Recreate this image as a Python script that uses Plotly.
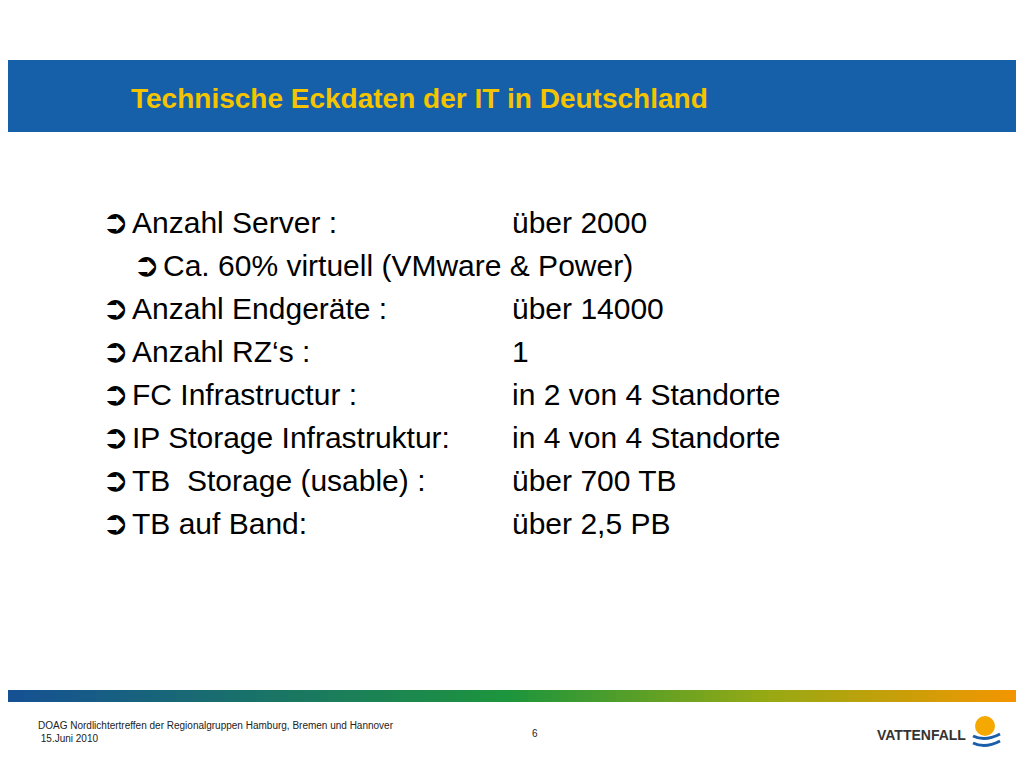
import plotly.graph_objects as go

title = "Technische Eckdaten der IT in Deutschland"
labels = ["Anzahl Server :", "Ca. 60% virtuell (VMware & Power)", "Anzahl Endgeräte :",
          "Anzahl RZ‘s :", "FC Infrastructur :", "IP Storage Infrastruktur:",
          "TB  Storage (usable) :", "TB auf Band:"]
values = ["über 2000", "", "über 14000", "1", "in 2 von 4 Standorte",
          "in 4 von 4 Standorte", "über 700 TB", "über 2,5 PB"]
levels = [0, 1, 0, 0, 0, 0, 0, 0]
footer = "DOAG Nordlichtertreffen der Regionalgruppen Hamburg, Bremen und Hannover<br> 15.Juni 2010"
page = "6"

fig = go.Figure()
shapes = [dict(type="rect", x0=0, x1=1024, y0=60, y1=132, fillcolor="#1660AA", line_width=0, layer="below")]

# gradient bar blue -> green -> orange
stops = [(0, (22, 80, 150)), (0.5, (30, 150, 60)), (0.75, (150, 170, 20)), (1, (245, 150, 0))]
n = 128
for i in range(n):
    t = i / (n - 1)
    for (a, ca), (b, cb) in zip(stops, stops[1:]):
        if a <= t <= b:
            f = (t - a) / (b - a)
            c = tuple(int(ca[k] + (cb[k] - ca[k]) * f) for k in range(3))
            break
    shapes.append(dict(type="rect", x0=i * 1024 / n, x1=(i + 1) * 1024 / n + 0.5, y0=690, y1=702,
                       fillcolor="rgb(%d,%d,%d)" % c, line_width=0))

# logo
shapes.append(dict(type="circle", x0=975, x1=995, y0=716, y1=736, fillcolor="#F5A800", line_width=0))
for yy in (736, 743):
    shapes.append(dict(type="path", path=f"M 973 {yy} Q 985 {yy+6} 1000 {yy-2}", line=dict(color="#1A5DA8", width=3)))

fig.add_annotation(x=129, y=98, text="<b>" + title + "</b>", showarrow=False, xanchor="left",
                   font=dict(family="Liberation Sans", size=28, color="#F5C400"))

y0, dy = 222, 43
for i, (lab, val, lv) in enumerate(zip(labels, values, levels)):
    y = y0 + i * dy
    xb = 100 + lv * 31
    fig.add_annotation(x=xb, y=y, text="<b>➲</b>", showarrow=False, xanchor="left",
                       font=dict(family="DejaVu Sans", size=32, color="black"))
    fig.add_annotation(x=xb + 30, y=y, text=lab, showarrow=False, xanchor="left",
                       font=dict(family="Liberation Sans", size=30, color="black"))
    if val:
        fig.add_annotation(x=510, y=y, text=val, showarrow=False, xanchor="left",
                           font=dict(family="Liberation Sans", size=30, color="black"))

fig.add_annotation(x=36, y=732, text=footer, showarrow=False, xanchor="left", align="left",
                   font=dict(family="Liberation Sans", size=10, color="#222"))
fig.add_annotation(x=535, y=733, text=page, showarrow=False, font=dict(family="Liberation Sans", size=10, color="#222"))
fig.add_annotation(x=968, y=735, text="<b>VATTENFALL</b>", showarrow=False, xanchor="right",
                   font=dict(family="Liberation Sans", size=14, color="#333"))

# page body has an 8px margin, so shift the axes to keep 1:1 page pixels
fig.update_layout(width=1008, height=752, margin=dict(l=0, r=0, t=0, b=0),
                  paper_bgcolor="white", plot_bgcolor="white", shapes=shapes, showlegend=False,
                  xaxis=dict(range=[8, 1016], visible=False, fixedrange=True),
                  yaxis=dict(range=[760, 8], visible=False, fixedrange=True))
fig.write_html("out.html")
